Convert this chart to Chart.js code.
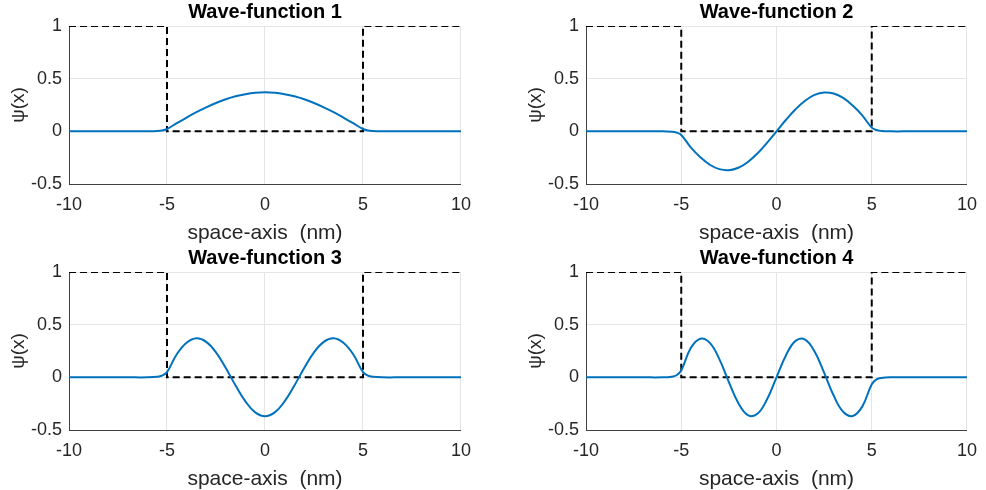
<!DOCTYPE html>
<html lang="en">
  <head>
    <meta charset="UTF-8" />
    <title>Wave-functions</title>
    <script src="https://cdn.jsdelivr.net/npm/chart.js"></script>
    <style>
      body { margin: 0; background: #fff; width: 986px; height: 490px; overflow: hidden; position: relative; }
      canvas { position: absolute; }
    </style>
  </head>
  <body>
    <canvas id="c1" width="481" height="245" style="left:0px;top:0px;width:481px;height:245px"></canvas>
    <canvas id="c2" width="470" height="245" style="left:517px;top:0px;width:470px;height:245px"></canvas>
    <canvas id="c3" width="481" height="245" style="left:0px;top:246px;width:481px;height:245px"></canvas>
    <canvas id="c4" width="470" height="245" style="left:517px;top:246px;width:470px;height:245px"></canvas>

    <script>
      // sample positions along the space axis (nm)
      const xs = [-10, -8, -7, -6, -5.5, -5.25, -5, -4.5, -4, -3.5, -3, -2.5, -2, -1.5, -1, -0.5,
                  0, 0.5, 1, 1.5, 2, 2.5, 3, 3.5, 4, 4.5, 5, 5.25, 5.5, 6, 7, 8, 10];

      const wave1 = [0, 0, 0, 0, 0.002, 0.007, 0.022, 0.077, 0.131, 0.182, 0.228, 0.269, 0.305, 0.333, 0.353, 0.366,
                     0.37, 0.366, 0.353, 0.333, 0.305, 0.269, 0.228, 0.182, 0.131, 0.077, 0.022, 0.007, 0.002, 0, 0, 0, 0];
      const wave2 = [0, 0, 0, 0, -0.004, -0.012, -0.035, -0.152, -0.245, -0.317, -0.359, -0.369, -0.346, -0.291, -0.21, -0.11,
                     0, 0.11, 0.21, 0.291, 0.346, 0.369, 0.359, 0.317, 0.245, 0.152, 0.035, 0.012, 0.004, 0, 0, 0, 0];
      const wave3 = [0, 0, 0, 0, 0.005, 0.016, 0.05, 0.219, 0.328, 0.37, 0.337, 0.237, 0.088, -0.078, -0.228, -0.333,
                     -0.37, -0.333, -0.228, -0.078, 0.088, 0.237, 0.337, 0.37, 0.328, 0.219, 0.05, 0.016, 0.005, 0, 0, 0, 0];
      const wave4 = [0, 0, 0, 0, 0.006, 0.02, 0.065, 0.278, 0.367, 0.327, 0.173, -0.045, -0.245, -0.359, -0.346, -0.21,
                     0, 0.21, 0.346, 0.359, 0.245, 0.045, -0.173, -0.327, -0.367, -0.278, -0.065, -0.02, -0.006, 0, 0, 0, 0];

      // potential well (dashed)
      const potentialX = [-10, -5, -5, 5, 5, 10];
      const potentialY = [1, 1, 0, 0, 1, 1];

      const titles = ["Wave-function 1", "Wave-function 2", "Wave-function 3", "Wave-function 4"];
      const xTicks = [-10, -5, 0, 5, 10];
      const yTicks = [-0.5, 0, 0.5, 1];

      const family = "'Liberation Sans', Arial, Helvetica, sans-serif";

      const makeChart = (id, title, wave, padRight) => {
        new Chart(document.getElementById(id), {
          type: "line",
          data: {
            datasets: [
              {
                data: xs.map((x, i) => ({ x: x, y: wave[i] })),
                borderColor: "#0072BD",
                borderWidth: 2,
                pointRadius: 0,
                tension: 0.4,
                fill: false,
              },
              {
                data: potentialX.map((x, i) => ({ x: x, y: potentialY[i] })),
                borderColor: "#000000",
                borderWidth: 2,
                borderDash: [7, 4],
                pointRadius: 0,
                tension: 0,
                fill: false,
              },
            ],
          },
          options: {
            responsive: false,
            animation: false,
            events: [],
            layout: { padding: { top: 0, left: 0, bottom: 0, right: padRight } },
            plugins: {
              legend: { display: false },
              tooltip: { enabled: false },
              title: {
                display: true,
                text: title,
                fullSize: false,
                color: "#000",
                font: { family: family, size: 20, weight: "bold", lineHeight: 1 },
                padding: { top: 2, bottom: 4 },
              },
            },
            scales: {
              x: {
                type: "linear",
                min: -10,
                max: 10,
                afterBuildTicks: (s) => { s.ticks = xTicks.map((v) => ({ value: v })); },
                afterFit: (s) => { s.height = 61; },
                grid: { color: "#e5e5e5", drawTicks: false },
                border: { color: "#404040" },
                ticks: {
                  color: "#262626",
                  font: { family: family, size: 18 },
                  padding: 10,
                  maxRotation: 0,
                  autoSkip: false,
                  callback: (v) => String(v),
                },
                title: {
                  display: true,
                  text: "space-axis  (nm)",
                  color: "#262626",
                  font: { family: family, size: 21, lineHeight: 1 },
                  padding: { top: 0, bottom: 1.5 },
                },
              },
              y: {
                type: "linear",
                min: -0.5,
                max: 1,
                afterBuildTicks: (s) => { s.ticks = yTicks.map((v) => ({ value: v })); },
                afterFit: (s) => { s.width = 69; },
                grid: { color: "#e5e5e5", drawTicks: false },
                border: { color: "#404040" },
                ticks: {
                  color: "#262626",
                  font: { family: family, size: 18 },
                  padding: 7,
                  autoSkip: false,
                  callback: (v) => String(v),
                },
                title: {
                  display: true,
                  text: "ψ(x)",
                  color: "#262626",
                  font: { family: family, size: 19, lineHeight: 1 },
                  padding: { top: 9, bottom: 0 },
                },
              },
            },
          },
        });
      };

      makeChart("c1", titles[0], wave1, 20);
      makeChart("c2", titles[1], wave2, 10);
      makeChart("c3", titles[2], wave3, 20);
      makeChart("c4", titles[3], wave4, 10);
    </script>
  </body>
</html>
